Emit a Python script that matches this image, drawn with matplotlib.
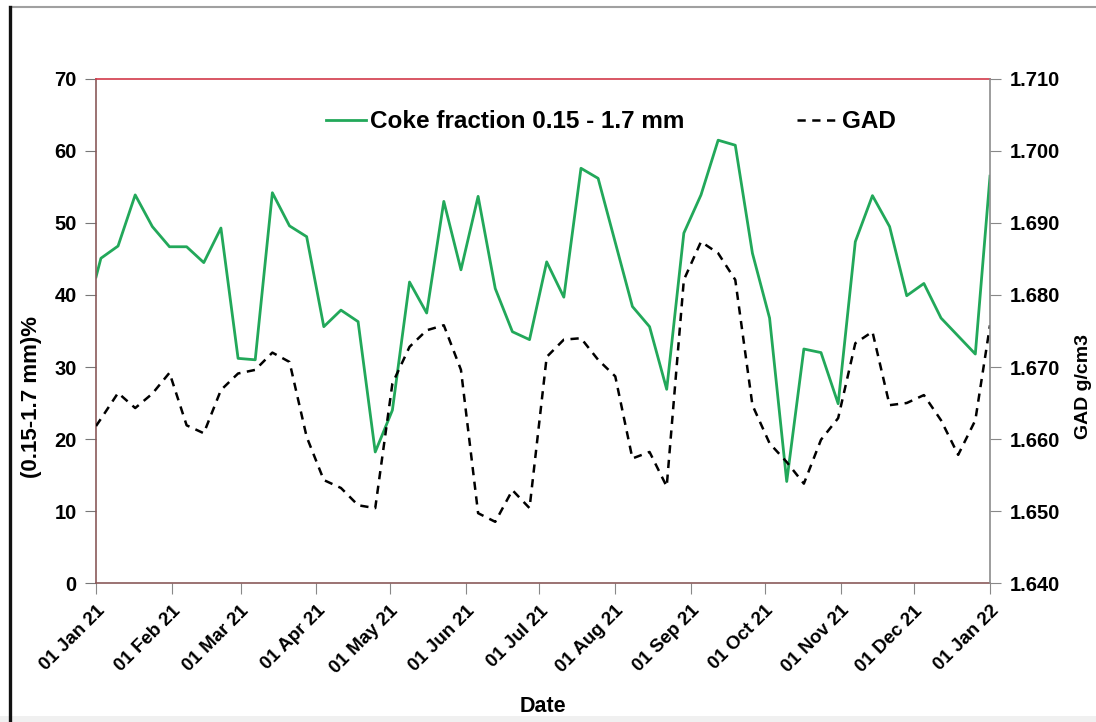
import matplotlib
matplotlib.use("Agg")
import matplotlib.pyplot as plt
import matplotlib.dates as mdates
from matplotlib.lines import Line2D
from matplotlib.patches import Rectangle
from matplotlib.ticker import FormatStrFormatter, MultipleLocator
import pandas as pd

plt.rcParams['font.family'] = ['Liberation Sans', 'DejaVu Sans']
plt.rcParams['font.weight'] = 'bold'

# weekly samples through 2021
dates = ['2021-01-01', '2021-01-03', '2021-01-10', '2021-01-17', '2021-01-24', '2021-01-31',
         '2021-02-07', '2021-02-14', '2021-02-21', '2021-02-28', '2021-03-07', '2021-03-14',
         '2021-03-21', '2021-03-28', '2021-04-04', '2021-04-11', '2021-04-18', '2021-04-25',
         '2021-05-02', '2021-05-09', '2021-05-16', '2021-05-23', '2021-05-30', '2021-06-06',
         '2021-06-13', '2021-06-20', '2021-06-27', '2021-07-04', '2021-07-11', '2021-07-18',
         '2021-07-25', '2021-08-01', '2021-08-08', '2021-08-15', '2021-08-22', '2021-08-29',
         '2021-09-05', '2021-09-12', '2021-09-19', '2021-09-26', '2021-10-03', '2021-10-10',
         '2021-10-17', '2021-10-24', '2021-10-31', '2021-11-07', '2021-11-14', '2021-11-21',
         '2021-11-28', '2021-12-05', '2021-12-12', '2021-12-19', '2021-12-26', '2022-01-01']

# coke fraction 0.15-1.7 mm, %
coke = [42.5, 45.1, 46.8, 53.9, 49.5, 46.7, 46.7, 44.5, 49.3, 31.2,
        31.0, 54.2, 49.6, 48.1, 35.6, 37.9, 36.3, 18.2, 24.0, 41.8,
        37.5, 53.0, 43.5, 53.7, 40.9, 34.9, 33.8, 44.6, 39.7, 57.6,
        56.2, 47.3, 38.4, 35.6, 26.9, 48.6, 53.9, 61.5, 60.8, 45.8,
        36.8, 14.1, 32.5, 32.0, 24.9, 47.4, 53.8, 49.5, 39.9, 41.6,
        36.8, 34.3, 31.8, 56.5]

# GAD, g/cm3
gad = [1.6618, 1.6628, 1.6664, 1.6643, 1.6663, 1.6692, 1.6619, 1.6608, 1.6668, 1.6691,
       1.6696, 1.6720, 1.6707, 1.6603, 1.6543, 1.6532, 1.6508, 1.6504, 1.6677, 1.6728,
       1.6751, 1.6758, 1.6696, 1.6497, 1.6485, 1.6529, 1.6504, 1.6714, 1.6738, 1.6740,
       1.6710, 1.6687, 1.6573, 1.6582, 1.6534, 1.6821, 1.6874, 1.6858, 1.6821, 1.6647,
       1.6594, 1.6568, 1.6538, 1.6599, 1.6629, 1.6733, 1.6749, 1.6647, 1.6650, 1.6661,
       1.6626, 1.6578, 1.6626, 1.6758]

x = pd.to_datetime(dates)

fig = plt.figure(figsize=(10.96, 7.22), dpi=100)
ax = fig.add_axes([0.0876, 0.1925, 0.8157, 0.6981])
ax2 = ax.twinx()

# outer panel border
fig.add_artist(Rectangle((0, 0), 1, 0.008, transform=fig.transFigure, color='#f0f0f0', lw=0))
fig.add_artist(Line2D([0.0095, 1], [0.9905, 0.9905], transform=fig.transFigure, color='#a0a0a0', lw=1.5))
fig.add_artist(Line2D([0.0088, 0.0088], [0, 0.9905], transform=fig.transFigure, color='#111111', lw=2.4))

l1, = ax.plot(x, coke, color='#22a85a', lw=2.0, label='Coke fraction 0.15 - 1.7 mm')
l2, = ax2.plot(x, gad, color='black', lw=1.8, linestyle=(0, (3.3, 2.6)), label='GAD')

ax.set_xlim(pd.Timestamp('2021-01-01'), pd.Timestamp('2022-01-01'))
ax.set_ylim(0, 70)
ax.yaxis.set_major_locator(MultipleLocator(10))
ax2.set_ylim(1.640, 1.710)
ax2.yaxis.set_major_locator(MultipleLocator(0.01))
ax2.yaxis.set_major_formatter(FormatStrFormatter('%.3f'))

ax.xaxis.set_major_locator(mdates.MonthLocator())
ax.xaxis.set_major_formatter(mdates.DateFormatter('%d %b %y'))
plt.setp(ax.get_xticklabels(), rotation=45, ha='right', rotation_mode='anchor')

ax.tick_params(axis='x', direction='out', length=8, color='#888888', labelsize=13.5, pad=6)
ax.tick_params(axis='y', direction='out', length=8, color='#777777', labelsize=14.5, pad=6)
ax2.tick_params(axis='y', direction='out', length=8, color='#888888', labelsize=14.5, pad=6)

for s in ['left', 'bottom']:
    ax.spines[s].set_color('#8a5a5a')
    ax.spines[s].set_linewidth(1.2)
ax.spines['top'].set_color('#d23a4a')
ax.spines['top'].set_linewidth(1.2)
ax.spines['right'].set_visible(False)
for s in ['left', 'top', 'bottom']:
    ax2.spines[s].set_visible(False)
ax2.spines['right'].set_color('#8c8c8c')
ax2.spines['right'].set_linewidth(1.2)

ax.set_xlabel('Date', fontsize=15.5, fontweight='bold', labelpad=14)
ax.set_ylabel('(0.15-1.7 mm)%', fontsize=16, fontweight='bold')
ax.yaxis.set_label_coords(-0.06, 0.37)
ax2.set_ylabel('GAD g/cm3', fontsize=14, fontweight='bold')
ax2.yaxis.set_label_coords(1.095, 0.39)

ax.legend(handles=[l1, l2], loc='center', bbox_to_anchor=(0.5755, 0.9147), ncol=2,
          frameon=False, fontsize=17.5, handlelength=1.65, handletextpad=0.2,
          columnspacing=4.6)

fig.savefig('out.png', dpi=100, facecolor='white')
